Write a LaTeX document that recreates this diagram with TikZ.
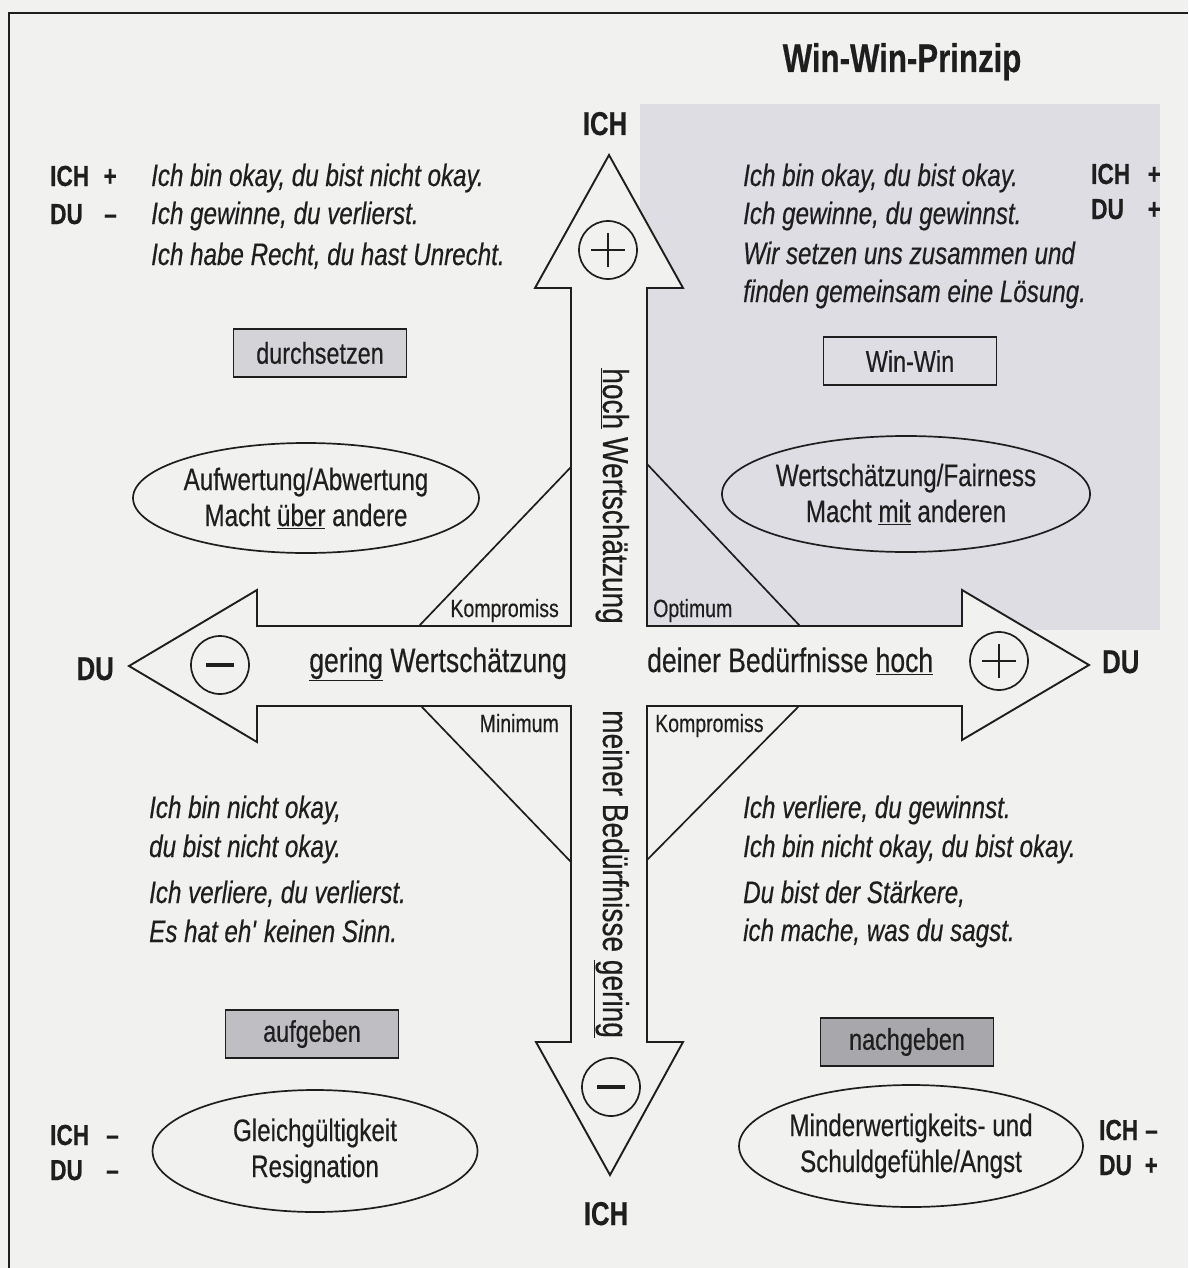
\documentclass[tikz,border=0pt]{standalone}
\usepackage{xcolor}
\usepackage{fontspec}
\setmainfont[FakeStretch=0.78, FakeBold=0.4]{Liberation Sans}
\usepackage{tikz}
\usetikzlibrary{shapes.geometric}

\definecolor{paper}{RGB}{241,241,240}
\definecolor{wingray}{RGB}{222,221,228}
\definecolor{ink}{RGB}{30,30,30}
\definecolor{boxlight}{RGB}{212,212,216}
\definecolor{boxmid}{RGB}{190,190,195}
\definecolor{boxdark}{RGB}{168,168,172}

\newcommand{\fs}[2]{\fontsize{#1}{#2}\selectfont}

\begin{document}
\begin{tikzpicture}[x=1pt, y=-1pt, ink,
    txt/.style={inner sep=0pt, anchor=base west, font=\itshape\fs{31}{36}},
    tag/.style={inner sep=0pt, font=\bfseries\fs{29}{34}},
    axis/.style={inner sep=0pt, font=\bfseries\fs{33}{38}},
    corner/.style={inner sep=0pt, font=\fs{25}{30}},
    lbl/.style={inner sep=0pt, font=\fs{34}{40}},
    wish/.style={draw, ellipse, line width=1.7pt, inner sep=0pt, align=center, font=\fs{31}{36}},
    way/.style={draw, line width=1.2pt, inner sep=0pt, minimum width=173pt, minimum height=48pt, font=\fs{30}{34}},
    sign/.style={draw, circle, line width=1.7pt, minimum size=58pt, inner sep=0pt}]

    \fill[paper] (0,0) rectangle (1188,1268);
    \useasboundingbox (0,0) rectangle (1188,1268);
    \fill[wingray] (640,104) rectangle (1160,630);
    \draw[line width=1.2pt] (1188,13) -- (9,13) -- (9,1268);

    % the cross with four heads
    \draw[line width=1.9pt, fill=paper] (609,155) -- (683,288) -- (647,288) -- (647,626)
        -- (962,626) -- (962,590) -- (1089,665) -- (962,740) -- (962,706) -- (647,706)
        -- (647,1042) -- (683,1042) -- (610,1175) -- (536,1042) -- (571,1042) -- (571,706)
        -- (257,706) -- (257,742) -- (129,666) -- (257,590) -- (257,626) -- (571,626)
        -- (571,288) -- (535,288) -- cycle;
    \draw[line width=1.7pt] (419,626) -- (571,467);
    \draw[line width=1.7pt] (800,626) -- (647,464);
    \draw[line width=1.7pt] (421,706) -- (571,862);
    \draw[line width=1.7pt] (799,706) -- (647,860);

    \node[sign] (up) at (608,250) {};
    \node[sign] (down) at (611,1087) {};
    \node[sign] (left) at (220,665) {};
    \node[sign] (right) at (999,661) {};
    \draw[line width=2.7pt] (up.center) +(-17,0) -- +(17,0) (up.center) +(0,-17) -- +(0,17);
    \draw[line width=2.7pt] (right.center) +(-17,0) -- +(17,0) (right.center) +(0,-17) -- +(0,17);
    \draw[line width=3.2pt] (left.center) +(-14,0) -- +(14,0);
    \draw[line width=3.2pt] (down.center) +(-14,0) -- +(14,0);

    \node[inner sep=0pt, anchor=base, font=\bfseries\fs{40}{44}] (title) at (902,72) {Win-Win-Prinzip};
    \node[axis, anchor=base] (ichtop) at (605,135) {ICH};
    \node[axis, anchor=base] (ichbot) at (606,1225) {ICH};
    \node[axis, anchor=base east] (duleft) at (114,680) {DU};
    \node[axis, anchor=base west] (duright) at (1102,673) {DU};

    \node[lbl, anchor=base east] (lowdu) at (567,672) {\underline{gering} Wertschätzung};
    \node[lbl, anchor=base west] (highdu) at (647,672) {deiner Bedürfnisse \underline{hoch}};
    \node[lbl, rotate=-90, anchor=base east, font=\fs{36}{40}] (highich) at (603,624) {\underline{hoch} Wertschätzung};
    \node[lbl, rotate=-90, anchor=base west, font=\fs{36}{40}] (lowich) at (603,710) {meiner Bedürfnisse \underline{gering}};

    \node[corner, anchor=base east] (kompa) at (559,617) {Kompromiss};
    \node[corner, anchor=base west] (opt) at (653,617) {Optimum};
    \node[corner, anchor=base east] (mini) at (559,732) {Minimum};
    \node[corner, anchor=base west] (kompb) at (655,732) {Kompromiss};

    % top left
    \node[tag, anchor=base west] (tlich) at (50,186) {ICH};
    \node[tag, anchor=base east] (tlichs) at (117,186) {+};
    \node[tag, anchor=base west] (tldu) at (50,224) {DU};
    \node[tag, anchor=base east] (tldus) at (117,224) {–};
    \node[txt] (tla) at (151,186) {Ich bin okay, du bist nicht okay.};
    \node[txt] (tlb) at (151,224) {Ich gewinne, du verlierst.};
    \node[txt] (tlc) at (151,265) {Ich habe Recht, du hast Unrecht.};

    % top right
    \node[tag, anchor=base west] (trich) at (1091,184) {ICH};
    \node[tag, anchor=base east] (trichs) at (1161,184) {+};
    \node[tag, anchor=base west] (trdu) at (1091,219) {DU};
    \node[tag, anchor=base east] (trdus) at (1161,219) {+};
    \node[txt] (tra) at (743,186) {Ich bin okay, du bist okay.};
    \node[txt] (trb) at (743,224) {Ich gewinne, du gewinnst.};
    \node[txt] (trc) at (743,264) {Wir setzen uns zusammen und};
    \node[txt] (trd) at (743,302) {finden gemeinsam eine Lösung.};

    % bottom left
    \node[txt] (bla) at (149,818) {Ich bin nicht okay,};
    \node[txt] (blb) at (149,857) {du bist nicht okay.};
    \node[txt] (blc) at (149,903) {Ich verliere, du verlierst.};
    \node[txt] (bld) at (149,942) {Es hat eh\textquotesingle{} keinen Sinn.};
    \node[tag, anchor=base west] (blich) at (50,1145) {ICH};
    \node[tag, anchor=base east] (blichs) at (119,1145) {–};
    \node[tag, anchor=base west] (bldu) at (50,1180) {DU};
    \node[tag, anchor=base east] (bldus) at (119,1180) {–};

    % bottom right
    \node[txt] (bra) at (743,818) {Ich verliere, du gewinnst.};
    \node[txt] (brb) at (743,857) {Ich bin nicht okay, du bist okay.};
    \node[txt] (brc) at (743,903) {Du bist der Stärkere,};
    \node[txt] (brd) at (743,941) {ich mache, was du sagst.};
    \node[tag, anchor=base west] (brich) at (1099,1140) {ICH};
    \node[tag, anchor=base east] (brichs) at (1158,1140) {–};
    \node[tag, anchor=base west] (brdu) at (1099,1175) {DU};
    \node[tag, anchor=base east] (brdus) at (1158,1175) {+};

    \node[way, fill=boxlight] (push) at (320,353) {durchsetzen};
    \node[way, fill=wingray] (winwin) at (910,361) {Win-Win};
    \node[way, fill=boxmid] (quit) at (312,1034) {aufgeben};
    \node[way, fill=boxdark] (yield) at (907,1042) {nachgeben};

    \node[wish, minimum width=329pt, minimum height=110pt] (over) at (306,498) {Aufwertung/Abwertung\\Macht \underline{über} andere};
    \node[wish, minimum width=327pt, minimum height=116pt] (with) at (906,494) {Wertschätzung/Fairness\\Macht \underline{mit} anderen};
    \node[wish, minimum width=325pt, minimum height=122pt] (none) at (315,1151) {Gleichgültigkeit\\Resignation};
    \node[wish, minimum width=329pt, minimum height=122pt] (fear) at (911,1146) {Minderwertigkeits- und\\Schuldgefühle/Angst};
\end{tikzpicture}
\end{document}
